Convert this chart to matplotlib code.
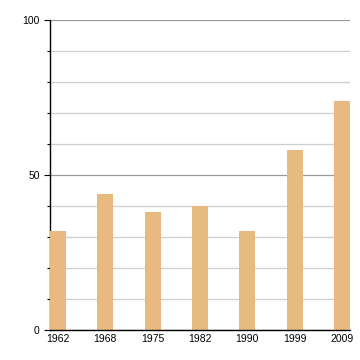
import matplotlib
matplotlib.use("Agg")
import matplotlib.pyplot as plt
from matplotlib.ticker import MultipleLocator

# values
years = ["1962", "1968", "1975", "1982", "1990", "1999", "2009"]
values = [32, 44, 38, 40, 32, 58, 74]

plt.rcParams['font.family'] = ['Liberation Sans', 'DejaVu Sans']

fig = plt.figure(figsize=(3.6, 3.6), dpi=100)
ax = fig.add_axes([50 / 360, 30 / 360, 300 / 360, 310 / 360])

x = range(len(years))
ax.bar(x, values, width=0.34, color="#e7bb80", zorder=3)

ax.set_xlim(-0.17, len(years) - 1 + 0.17)
ax.set_ylim(0, 100)
ax.set_xticks(list(x))
ax.set_xticklabels(years, fontsize=7.5)
ax.set_yticks([0, 50, 100])
ax.yaxis.set_minor_locator(MultipleLocator(10))
ax.tick_params(axis="x", length=0, pad=3)
ax.tick_params(axis="y", which="major", length=4.5, width=0.8, labelsize=7.5, pad=3)
ax.tick_params(axis="y", which="minor", length=2.5, width=0.8)

# grid: darker at labelled values, light for the rest
ax.grid(axis="y", which="major", color="#9a9a9a", linewidth=0.9, zorder=0)
ax.grid(axis="y", which="minor", color="#cfcfcf", linewidth=0.9, zorder=0)
ax.set_axisbelow(True)

for side in ["top", "right"]:
    ax.spines[side].set_visible(False)
ax.spines["left"].set_linewidth(1.0)
ax.spines["bottom"].set_linewidth(1.0)
ax.spines["bottom"].set_zorder(4)

fig.savefig("out.png", dpi=100)
